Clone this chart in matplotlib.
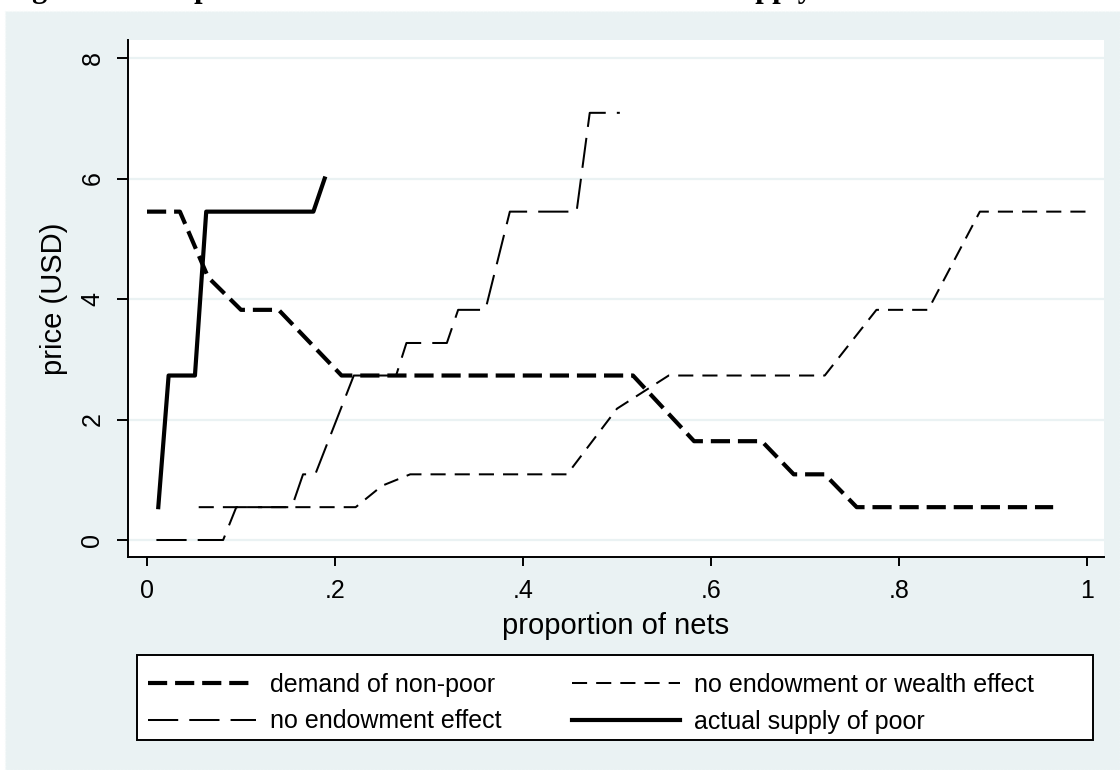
import matplotlib
matplotlib.use("Agg")
import matplotlib.pyplot as plt
from matplotlib.patches import Rectangle

# ---------------- data ----------------
demand_x = [0.0, 0.035, 0.065, 0.10, 0.14, 0.207, 0.517, 0.582, 0.654, 0.688, 0.721, 0.755, 0.964]
demand_y = [5.45, 5.45, 4.36, 3.82, 3.82, 2.73, 2.73, 1.64, 1.64, 1.09, 1.09, 0.545, 0.545]

wealth_x = [0.055, 0.222, 0.25, 0.28, 0.447, 0.50, 0.555, 0.721, 0.776, 0.831, 0.886, 1.0]
wealth_y = [0.545, 0.545, 0.9, 1.09, 1.09, 2.18, 2.73, 2.73, 3.82, 3.82, 5.45, 5.45]

noendow_x = [0.01, 0.081, 0.095, 0.154, 0.166, 0.179, 0.22, 0.265, 0.276, 0.319,
             0.331, 0.36, 0.386, 0.457, 0.471, 0.503]
noendow_y = [0.0, 0.0, 0.545, 0.545, 1.09, 1.09, 2.73, 2.73, 3.27, 3.27,
             3.82, 3.82, 5.45, 5.45, 7.09, 7.09]

supply_x = [0.012, 0.023, 0.051, 0.063, 0.177, 0.189]
supply_y = [0.545, 2.73, 2.73, 5.45, 5.45, 6.0]

x_ticks = [0, 0.2, 0.4, 0.6, 0.8, 1.0]
x_ticklabels = ["0", ".2", ".4", ".6", ".8", "1"]
y_ticks = [0, 2, 4, 6, 8]
y_ticklabels = ["0", "2", "4", "6", "8"]

labels = ["demand of non-poor", "no endowment effect",
          "no endowment or wealth effect", "actual supply of poor"]
title = "Figure 4: Comparison of simulated demand and actual supply"

# ---------------- style ----------------
W, H = 1120, 770
BG = "#EAF2F3"
FONT = ["Liberation Sans", "DejaVu Sans"]
FS_TICK = 18
FS_TITLE = 21
FS_LEG = 18
plt.rcParams["font.family"] = FONT

fig = plt.figure(figsize=(W / 100, H / 100), dpi=100)
fig.patch.set_facecolor("white")

# outer graph region (behind everything)
bg = Rectangle((5 / W, 0), 1 - 5 / W, 1 - 11 / H, transform=fig.transFigure,
               facecolor=BG, edgecolor="#F6FAFA", lw=1.0, ls=":", zorder=-10)
fig.add_artist(bg)

# partially cut title at the top (as in the reference)
fig.text(5 / W, 1 + 3 / H, title, ha="left", va="baseline", fontsize=22,
         fontweight="bold", family=["Liberation Serif", "DejaVu Serif"], color="black")

ax = fig.add_axes([128 / W, 1 - 557 / H, (1104 - 128) / W, (557 - 40) / H])
ax.set_zorder(1)
ax.set_facecolor("white")

x0px, x_per = 147, 940.0
y0px, y_per = 540, 60.25
ax.set_xlim((128 - x0px) / x_per, (1104 - x0px) / x_per)
ax.set_ylim((y0px - 557) / y_per, (y0px - 40) / y_per)

for yv in y_ticks:
    ax.axhline(yv, color=BG, lw=1.6, zorder=1)

l1, = ax.plot(demand_x, demand_y, color="black", lw=3.0, ls=(0, (4.6, 1.9)),
              dash_capstyle="butt", zorder=3)
l2, = ax.plot(noendow_x, noendow_y, color="black", lw=1.45, ls=(0, (15, 5.5)),
              dash_capstyle="butt", zorder=3)
l3, = ax.plot(wealth_x, wealth_y, color="black", lw=1.45, ls=(0, (7.5, 4.5)),
              dash_capstyle="butt", zorder=3)
l4, = ax.plot(supply_x, supply_y, color="black", lw=3.0, ls="-", zorder=4)

for s in ["top", "right"]:
    ax.spines[s].set_visible(False)
for s in ["left", "bottom"]:
    ax.spines[s].set_linewidth(1.4)
    ax.spines[s].set_color("black")

ax.set_xticks(x_ticks)
ax.set_xticklabels(x_ticklabels, fontsize=FS_TICK)
ax.set_yticks(y_ticks)
ax.set_yticklabels(y_ticklabels, fontsize=FS_TICK, rotation=90, va="center")
ax.tick_params(axis="x", direction="out", length=6.5, width=1.4, pad=9, colors="black")
ax.tick_params(axis="y", direction="out", length=8, width=1.4, pad=9, colors="black")

ax.set_xlabel("proportion of nets", fontsize=FS_TITLE, labelpad=7)
ax.set_ylabel("price (USD)", fontsize=FS_TITLE, labelpad=9)

# legend box (frame drawn as a figure rectangle so it spans the reference width)
frame = Rectangle((137 / W, 1 - 740 / H), (1093 - 137) / W, (740 - 655) / H,
                  transform=fig.transFigure, facecolor="white", edgecolor="black",
                  lw=1.4, zorder=2)
fig.add_artist(frame)
leg = fig.legend([l1, l2, l3, l4], labels, ncol=2, loc="upper left",
                 bbox_to_anchor=(133 / W, 1 - 658 / H), fontsize=FS_LEG,
                 frameon=False, handlelength=4.3, handletextpad=0.6,
                 labelspacing=0.5, borderpad=0.6, borderaxespad=0.0,
                 columnspacing=2.8)
leg.set_zorder(3)

fig.savefig("out.png", dpi=100, facecolor=fig.get_facecolor())
